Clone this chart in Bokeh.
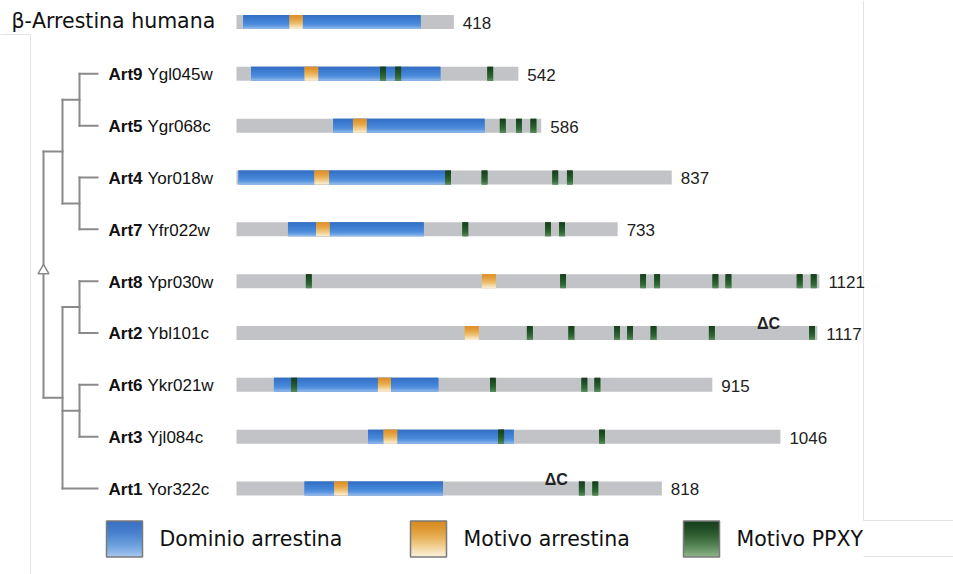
from bokeh.plotting import figure
from bokeh.models import Range1d
from bokeh.core.properties import value
from bokeh.embed import file_html
from bokeh.resources import INLINE

# ---------------- data ----------------
proteins = ["β-Arrestina humana", "Art9", "Art5", "Art4", "Art7",
            "Art8", "Art2", "Art6", "Art3", "Art1"]
genes = ["", "Ygl045w", "Ygr068c", "Yor018w", "Yfr022w",
         "Ypr030w", "Ybl101c", "Ykr021w", "Yjl084c", "Yor322c"]
lengths = [418, 542, 586, 837, 733, 1121, 1117, 915, 1046, 818]
domain_start = [13, 28, 186, 4, 99, None, None, 72, 253, 131]
domain_end = [354, 392, 477, 402, 360, None, None, 388, 533, 397]
motif_start = [102, 131, 224, 150, 153, 472, 439, 272, 283, 188]
motif_end = [127, 157, 250, 178, 179, 499, 466, 297, 309, 214]
ppxy_sites = [
    [],
    [282, 311, 488],
    [512, 543, 571],
    [407, 477, 613, 641],
    [440, 599, 626],
    [139, 628, 782, 809, 921, 946, 1083, 1110],
    [564, 644, 732, 757, 802, 914, 1107],
    [111, 493, 669, 694],
    [509, 703],
    [664, 690],
]
deltaC_protein = ["Art2", "Art1"]
deltaC_pos = [1023, 615]
tree = [[["Art9", "Art5"], ["Art4", "Art7"]],
        [["Art8", "Art2"], ["Art6", "Art3"], "Art1"]]
legend_labels = ["Dominio arrestina", "Motivo arrestina", "Motivo PPXY"]

# ---------------- layout / style ----------------
W, H = 953, 574
ORG = 0                      # page offset of the canvas
X0, S = 236.0, 0.52          # page px of residue 0, px per residue
ROW0, DY = 21.5, 51.83       # page px of row 0 centre, px per row
def px2x(px): return (px - X0) / S
def py2y(py): return (py - ROW0) / DY
def ph(px): return px / DY   # pixel height -> row units

BAR_H = 14
PPXY_W = 11
GRAY = "#c1c3c7"
BLUE = ["#3470c4", "#3977cb", "#3e7ed2", "#4484d7", "#4d8bdb", "#669de1", "#90b8ea"]
ORANGE = ["#de902a", "#e29935", "#e6a443", "#eab35c", "#efc47c", "#f4daa6", "#f9ecd0"]
GREEN = ["#17411d", "#1b4821", "#1f5025", "#25592a", "#2d6432", "#3b733f", "#578c59"]
LEG_BLUE = ["#3a6fc0", "#4078c8", "#4a82cf", "#5990d6", "#6c9fdd", "#86b2e6", "#a6c6ee"]
LEG_ORANGE = ["#d8891f", "#dd952f", "#e3a444", "#e9b662", "#efca88", "#f5deb3", "#faf0da"]
LEG_GREEN = ["#163d1b", "#1f4a24", "#2b5a2f", "#3d6c3e", "#548154", "#6f9a6c", "#8fb48a"]


def hex2rgb(h):
    h = h.lstrip("#")
    return tuple(int(h[i:i + 2], 16) for i in (0, 2, 4))


def resample(stops, n):
    out = []
    m = len(stops) - 1
    for k in range(n):
        t = k / (n - 1) * m
        i = min(int(t), m - 1)
        f = t - i
        a, b = hex2rgb(stops[i]), hex2rgb(stops[i + 1])
        out.append("#%02x%02x%02x" % tuple(round(a[j] + (b[j] - a[j]) * f) for j in range(3)))
    return out


p = figure(width=W, height=H, output_backend="svg", toolbar_location=None,
           x_range=Range1d(px2x(ORG), px2x(ORG + W)),
           y_range=Range1d(py2y(ORG + H), py2y(ORG)),
           min_border=0, outline_line_color=None)
p.axis.visible = False
p.xgrid.visible = False
p.ygrid.visible = False
p.background_fill_color = "white"
p.border_fill_color = "white"

# faint frame of the original panel
fx0, fy0, fx1, fy1 = [], [], [], []
for a, b, c, d in [(0, 34, 30, 34), (30, 34, 30, 600), (863, 0, 863, 520),
                   (863, 520, 960, 520), (863, 556, 960, 556)]:
    fx0.append(px2x(a)); fy0.append(py2y(b)); fx1.append(px2x(c)); fy1.append(py2y(d))
p.segment(fx0, fy0, fx1, fy1, line_color="#e4e4e4", line_width=1)


def gradient_quads(lefts, rights, centres, half_px, stops, n=14):
    cols = resample(stops, n)
    L, R, T, B, C = [], [], [], [], []
    for l, r, c in zip(lefts, rights, centres):
        top = c - ph(half_px)
        full = ph(2 * half_px)
        dh = full / n
        L.append(l); R.append(r); T.append(top); B.append(top + full); C.append(cols[n // 2])
        for k in range(n):
            L.append(l); R.append(r)
            T.append(top + k * dh)
            B.append(min(top + (k + 1.5) * dh, top + full))
            C.append(cols[k])
    p.quad(left=L, right=R, top=T, bottom=B, fill_color=C, line_color=None)


rows = list(range(len(proteins)))
half = BAR_H / 2

# grey protein bars
p.quad(left=[0] * len(rows), right=lengths,
       top=[r - ph(half) for r in rows], bottom=[r + ph(half) for r in rows],
       fill_color=GRAY, line_color=None)

# arrestin domains
dl, dr, dc = [], [], []
for r, a, b in zip(rows, domain_start, domain_end):
    if a is not None:
        dl.append(a); dr.append(b); dc.append(r)
gradient_quads(dl, dr, dc, half, BLUE)

# arrestin motifs
gradient_quads(motif_start, motif_end, rows, half, ORANGE)

# PPXY motifs
gl, gr, gc = [], [], []
for r, sites in zip(rows, ppxy_sites):
    for s in sites:
        gl.append(s - PPXY_W / 2); gr.append(s + PPXY_W / 2); gc.append(r)
gradient_quads(gl, gr, gc, half, GREEN)

# length labels
p.text(x=lengths, y=rows, text=[str(v) for v in lengths], x_offset=9,
       text_font=value("Liberation Sans"), text_font_size="17px",
       text_baseline="middle", text_align="left", text_color="#222222", y_offset=1)

# protein names
p.text(x=[px2x(11)], y=[0], text=[proteins[0]],
       text_font=value("DejaVu Sans"), text_font_size="20.5px",
       text_baseline="middle", text_align="left", text_color="#111111", y_offset=-1)
p.text(x=[px2x(108)] * (len(rows) - 1), y=rows[1:], text=proteins[1:],
       text_font=value("Liberation Sans"), text_font_style="bold", text_font_size="17px",
       text_baseline="middle", text_align="left", text_color="#111111", y_offset=1)
p.text(x=[px2x(108)] * (len(rows) - 1), y=rows[1:], text=genes[1:], x_offset=39,
       text_font=value("Liberation Sans"), text_font_size="17px",
       text_baseline="middle", text_align="left", text_color="#111111", y_offset=1)

# ΔC marks
p.text(x=deltaC_pos, y=[proteins.index(n) - ph(half + 2) for n in deltaC_protein],
       text=["ΔC"] * len(deltaC_pos),
       text_font=value("Liberation Sans"), text_font_style="bold", text_font_size="16px",
       text_baseline="alphabetic", text_align="center", text_color="#222222")

# tree
depth_x = [43, 62, 79]
leaf_x = 97
segs = []
def layout(node, depth):
    if isinstance(node, str):
        return float(proteins.index(node))
    ys = [layout(c, depth + 1) for c in node]
    x = depth_x[depth]
    segs.append((x, min(ys), x, max(ys)))
    for c, yc in zip(node, ys):
        xe = leaf_x if isinstance(c, str) else depth_x[depth + 1]
        segs.append((x, yc, xe, yc))
    return (min(ys) + max(ys)) / 2
root_y = layout(tree, 0)
p.segment([px2x(s[0]) for s in segs], [s[1] for s in segs],
          [px2x(s[2]) for s in segs], [s[3] for s in segs],
          line_color="#8a8a8a", line_width=2, line_cap="square")
p.scatter(x=[px2x(depth_x[0])], y=[root_y - ph(4)], marker="triangle", size=11,
          fill_color="white", line_color="#8a8a8a", line_width=1.5)

# legend
leg_px = [106, 410, 683]
leg_cy = 538.5
leg_sz = 36
leg_stops = [LEG_BLUE, LEG_ORANGE, LEG_GREEN]
for lx, stops in zip(leg_px, leg_stops):
    gradient_quads([px2x(lx)], [px2x(lx + leg_sz)], [py2y(leg_cy)], leg_sz / 2, stops, n=36)
p.quad(left=[px2x(lx) for lx in leg_px], right=[px2x(lx + leg_sz) for lx in leg_px],
       top=[py2y(leg_cy - leg_sz / 2)] * 3, bottom=[py2y(leg_cy + leg_sz / 2)] * 3,
       fill_color=None, line_color="#7a7a7a", line_width=1.5)
p.text(x=[px2x(lx + 53) for lx in leg_px], y=[py2y(leg_cy)] * 3, text=legend_labels,
       text_font=value("DejaVu Sans"), text_font_size="20.5px",
       text_baseline="middle", text_align="left", text_color="#111111")

open("out.html", "w").write(file_html(p, INLINE))
